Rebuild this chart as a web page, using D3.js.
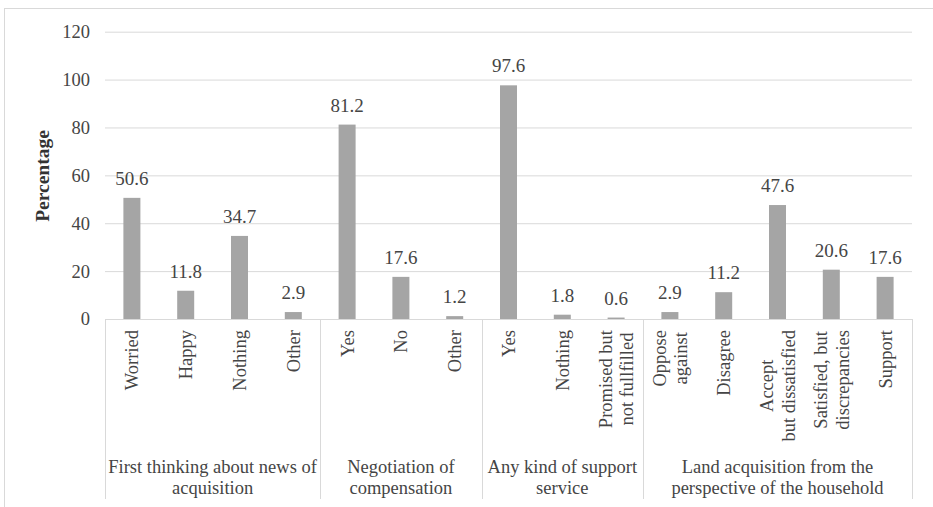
<!DOCTYPE html>
<html>
<head>
<meta charset="utf-8">
<script src="https://cdn.jsdelivr.net/npm/d3@7"></script>
<style>
  html, body { margin: 0; padding: 0; background: #fff; }
  svg { display: block; font-family: "Liberation Serif", "Times New Roman", serif; }
</style>
</head>
<body>
<svg id="chart" width="933" height="507"></svg>
<script>
const categories = ["Worried", "Happy", "Nothing", "Other", "Yes", "No", "Other", "Yes", "Nothing",
  "Promised but\nnot fullfilled", "Oppose\nagainst", "Disagree", "Accept\nbut dissatisfied",
  "Satisfied, but\ndiscrepancies", "Support"];
const groupOf = [0, 0, 0, 0, 1, 1, 1, 2, 2, 2, 3, 3, 3, 3, 3];
const values = [50.6, 11.8, 34.7, 2.9, 81.2, 17.6, 1.2, 97.6, 1.8, 0.6, 2.9, 11.2, 47.6, 20.6, 17.6];
const groupLabels = ["First thinking about news of\nacquisition", "Negotiation of\ncompensation",
  "Any kind of support\nservice", "Land acquisition from the\nperspective of the household"];
const yTicks = [0, 20, 40, 60, 80, 100, 120];
const yTitle = "Percentage";

(function () {
const svg = d3.select("#chart");
const pLeft = 105, pRight = 912, pTop = 31.7, pBase = 319, pBottom = 499;
const textColor = "#454545", lineColor = "#d9d9d9", barColor = "#a5a5a5";

// outer chart border
svg.append("rect").attr("x", 4.5).attr("y", 8.5).attr("width", 1000).attr("height", 700)
  .attr("fill", "none").attr("stroke", lineColor).attr("stroke-width", 1);

const x = d3.scaleBand().domain(d3.range(categories.length)).range([pLeft, pRight])
  .paddingInner(0.684).paddingOuter(0.342);
const y = d3.scaleLinear().domain([0, 120]).range([pBase, pTop]);

// y axis with gridlines
const yAxis = svg.append("g").attr("transform", `translate(${pLeft},0)`)
  .call(d3.axisLeft(y).tickValues(yTicks).tickSize(-(pRight - pLeft)).tickPadding(15).tickFormat(d3.format("d")));
yAxis.select(".domain").remove();
yAxis.selectAll(".tick line").attr("stroke", lineColor).attr("stroke-width", 1);
yAxis.selectAll(".tick text").attr("fill", textColor).style("font-size", "18.5px")
  .style("font-family", "Liberation Serif, serif");

// bars
svg.append("g").selectAll("rect").data(values).join("rect")
  .attr("x", (d, i) => x(i)).attr("width", x.bandwidth())
  .attr("y", d => y(d)).attr("height", d => y(0) - y(d)).attr("fill", barColor);

// data labels
svg.append("g").selectAll("text").data(values).join("text")
  .attr("x", (d, i) => x(i) + x.bandwidth() / 2).attr("y", d => y(d) - 13)
  .attr("text-anchor", "middle").attr("fill", textColor).style("font-size", "19px")
  .text(d => d3.format(".1f")(d));

// category axis
const xAxis = svg.append("g").attr("transform", `translate(0,${pBase})`)
  .call(d3.axisBottom(x).tickSize(0).tickFormat(i => categories[i]));
xAxis.select(".domain").remove();
xAxis.selectAll(".tick text").each(function (i) {
  const t = d3.select(this);
  const lines = categories[i].split("\n");
  t.text(null).attr("y", 0).attr("dy", null)
    .attr("transform", "rotate(-90)").attr("text-anchor", "middle")
    .attr("fill", textColor).style("font-size", "18.5px").style("font-family", "Liberation Serif, serif");
  const spans = lines.map((l, k) => t.append("tspan").text(l));
  const maxW = d3.max(spans, s => s.node().getComputedTextLength());
  const sp = 21.6;
  spans.forEach((s, k) => {
    s.attr("x", -(11 + maxW / 2)).attr("y", (k - (lines.length - 1) / 2) * sp).attr("dy", "0.35em");
  });
});

// axis line
svg.append("line").attr("x1", pLeft).attr("x2", pRight).attr("y1", pBase + 0.5).attr("y2", pBase + 0.5)
  .attr("stroke", lineColor);

// group separators and labels
const half = (x.step() - x.bandwidth()) / 2;
const groups = d3.range(groupLabels.length).map(g => {
  const idx = groupOf.map((v, i) => v === g ? i : -1).filter(i => i >= 0);
  return { g, x0: x(idx[0]) - half, x1: x(idx[idx.length - 1]) + x.bandwidth() + half };
});
const seps = [groups[0].x0].concat(groups.map(d => d.x1));
svg.append("g").selectAll("line").data(seps).join("line")
  .attr("x1", d => Math.round(d) + 0.5).attr("x2", d => Math.round(d) + 0.5)
  .attr("y1", pBase).attr("y2", pBottom).attr("stroke", lineColor);

const gl = svg.append("g").selectAll("text").data(groups).join("text")
  .attr("text-anchor", "middle").attr("fill", textColor).style("font-size", "18.5px");
gl.each(function (d) {
  const t = d3.select(this);
  groupLabels[d.g].split("\n").forEach((l, k) => {
    t.append("tspan").attr("x", (d.x0 + d.x1) / 2).attr("y", 473 + k * 21).text(l);
  });
});

// y title
svg.append("text").attr("transform", "translate(49,176) rotate(-90)")
  .attr("text-anchor", "middle").attr("fill", "#333333").style("font-size", "19.5px")
  .style("font-weight", "bold").text(yTitle);
})();
</script>
</body>
</html>
